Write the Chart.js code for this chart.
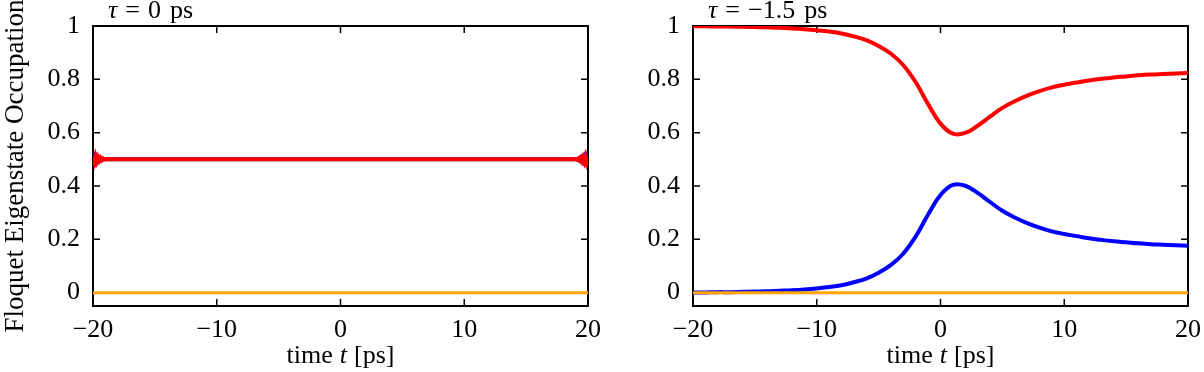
<!DOCTYPE html>
<html>
<head>
<meta charset="utf-8">
<script src="https://cdn.jsdelivr.net/npm/chart.js@4.4.0/dist/chart.umd.min.js"></script>
<style>
    html, body { margin: 0; padding: 0; background: #fff; }
    #wrap { position: relative; width: 1204px; height: 372px; }
    .panel { position: absolute; top: 0; height: 372px; }
    #left { left: 0; width: 600px; }
    #right { left: 600px; width: 604px; }
</style>
</head>
<body>
<div id="wrap">
    <div class="panel" id="left"><canvas id="chartLeft" width="600" height="372"></canvas></div>
    <div class="panel" id="right"><canvas id="chartRight" width="604" height="372"></canvas></div>
</div>
<script>
// axis ticks
const xTicks = [-20, -10, 0, 10, 20];
const yTicks = [0, 0.2, 0.4, 0.6, 0.8, 1];

// panel labels (tau values)
const tauLeft = "0";
const tauRight = "\u22121.5";

// left panel: tau = 0 ps (small wiggles only near the ends)
const tLeft = [-20, -19.9, -19.8, -19.7, -19.6, -19.5, -19.4, -19.3, -19.2, -19.1, -19,
    -18.5, -18, 0, 18, 18.5,
    19, 19.1, 19.2, 19.3, 19.4, 19.5, 19.6, 19.7, 19.8, 19.9, 20];
const redLeft = [0.508, 0.491, 0.511, 0.493, 0.507, 0.495, 0.505, 0.497, 0.503, 0.499, 0.501,
    0.500, 0.500, 0.500, 0.500, 0.500,
    0.501, 0.499, 0.503, 0.497, 0.505, 0.494, 0.507, 0.492, 0.510, 0.490, 0.507];
const blueLeft = [0.494, 0.507, 0.492, 0.506, 0.495, 0.504, 0.497, 0.502, 0.499, 0.501, 0.500,
    0.500, 0.500, 0.500, 0.500, 0.500,
    0.500, 0.501, 0.498, 0.503, 0.496, 0.505, 0.494, 0.507, 0.493, 0.508, 0.495];

// right panel: tau = -1.5 ps
const tRight = [-20, -19, -18, -17, -16, -15, -14, -13, -12, -11, -10, -9, -8, -7, -6, -5, -4, -3, -2, -1,
    0, 1, 2, 3, 4, 5, 6, 7, 8, 9, 10, 11, 12, 13, 14, 15, 16, 17, 18, 19, 20];
const redRight = [0.999, 0.999, 0.998, 0.998, 0.997, 0.996, 0.995, 0.993, 0.991, 0.988, 0.984, 0.979, 0.972, 0.961, 0.947,
    0.925, 0.896, 0.853, 0.789, 0.707,
    0.634, 0.596, 0.599, 0.626, 0.660,
    0.693, 0.718, 0.739, 0.756, 0.770, 0.780, 0.788, 0.796, 0.802, 0.807, 0.811, 0.815, 0.818, 0.820, 0.822, 0.824];
const blueRight = [0.001, 0.001, 0.002, 0.002, 0.003, 0.004, 0.005, 0.007, 0.009, 0.012, 0.016, 0.021, 0.028, 0.039, 0.053,
    0.075, 0.104, 0.147, 0.211, 0.293,
    0.366, 0.404, 0.401, 0.374, 0.340,
    0.307, 0.282, 0.261, 0.244, 0.230, 0.220, 0.212, 0.204, 0.198, 0.193, 0.189, 0.185, 0.182, 0.180, 0.178, 0.176];

// third state stays empty in both panels
const tEnds = [-20, 20];
const orange = [0, 0];

const FONT = "'Liberation Serif', 'Times New Roman', serif";
const FS = 26;
const RED = "#ff0000", BLUE = "#0000ff", ORANGE = "#ffa500";

function pts(ts, vs) {
    return ts.map((t, i) => ({ x: t, y: vs[i] }));
}

// draws a row of text pieces, some italic, with optional gaps after them
function drawPieces(ctx, pieces, x, y, align) {
    let total = 0;
    pieces.forEach(p => {
        ctx.font = (p.it ? "italic " : "") + FS + "px " + FONT;
        p.w = ctx.measureText(p.s).width + (p.gap || 0);
        total += p.w;
    });
    let cx = align === "center" ? x - total / 2 : x;
    pieces.forEach(p => {
        ctx.font = (p.it ? "italic " : "") + FS + "px " + FONT;
        ctx.fillText(p.s, cx, y);
        cx += p.w;
    });
}

// box with inward ticks on all four sides, plus panel texts
const framePlugin = {
    id: "frame",
    beforeDatasetsDraw(chart) {
        const { ctx, chartArea: a, scales: { x, y } } = chart;
        ctx.save();
        ctx.strokeStyle = "#000";
        ctx.lineWidth = 1.5;
        ctx.beginPath();
        xTicks.forEach(v => {
            const px = x.getPixelForValue(v);
            ctx.moveTo(px, a.bottom); ctx.lineTo(px, a.bottom - 7);
            ctx.moveTo(px, a.top); ctx.lineTo(px, a.top + 7);
        });
        yTicks.forEach(v => {
            const py = y.getPixelForValue(v);
            ctx.moveTo(a.left, py); ctx.lineTo(a.left + 7, py);
            ctx.moveTo(a.right, py); ctx.lineTo(a.right - 7, py);
        });
        ctx.stroke();
        ctx.lineWidth = 2;
        ctx.strokeRect(a.left, a.top, a.right - a.left, a.bottom - a.top);
        ctx.restore();
    },
    afterDraw(chart, args, opts) {
        const { ctx, chartArea: a } = chart;
        ctx.save();
        ctx.fillStyle = "#000";
        ctx.textBaseline = "alphabetic";
        ctx.textAlign = "left";
        drawPieces(ctx, [
            { s: "\u03c4", it: true, gap: 8 },
            { s: "=", gap: 8 },
            { s: opts.tau, gap: 9 },
            { s: "ps" }
        ], a.left + 15, 18, "left");
        drawPieces(ctx, [{ s: "time", gap: 7 }, { s: "t", it: true, gap: 7 }, { s: "[ps]" }], (a.left + a.right) / 2, 363, "center");
        ctx.restore();
    }
};

function makeChart(id, tau, datasets, showYTitle, rightPad) {
    const ctx = document.getElementById(id).getContext("2d");
    return new Chart(ctx, {
        type: "line",
        data: { datasets: datasets },
        plugins: [framePlugin],
        options: {
            responsive: false,
            animation: false,
            layout: { padding: { top: 26, right: rightPad, bottom: 0, left: 0 } },
            plugins: {
                legend: { display: false },
                tooltip: { enabled: false },
                frame: { tau: tau }
            },
            elements: { point: { radius: 0 } },
            scales: {
                x: {
                    type: "linear",
                    min: -20,
                    max: 20,
                    border: { display: false },
                    grid: { display: false, drawTicks: false },
                    afterBuildTicks: s => { s.ticks = xTicks.map(v => ({ value: v })); },
                    afterFit: s => { s.height = 66; s.paddingLeft = 0; s.paddingRight = 0; },
                    ticks: {
                        color: "#000",
                        padding: 9,
                        maxRotation: 0,
                        font: { family: FONT, size: FS },
                        callback: v => String(v).replace("-", "\u2212")
                    }
                },
                y: {
                    type: "linear",
                    min: -0.05,
                    max: 1,
                    border: { display: false },
                    grid: { display: false, drawTicks: false },
                    afterBuildTicks: s => { s.ticks = yTicks.map(v => ({ value: v })); },
                    afterFit: s => { s.width = 93; s.paddingTop = 0; s.paddingBottom = 0; },
                    title: {
                        display: showYTitle,
                        text: "Floquet Eigenstate Occupation",
                        color: "#000",
                        padding: { top: 0, bottom: 0 },
                        font: { family: FONT, size: 27 }
                    },
                    ticks: {
                        color: "#000",
                        padding: 13,
                        font: { family: FONT, size: FS },
                        callback: v => (v === 0 || v === 1) ? String(v) : v.toFixed(1)
                    }
                }
            }
        }
    });
}

// first dataset ends up on top
makeChart("chartLeft", tauLeft, [
    { data: pts(tEnds, orange), borderColor: ORANGE, borderWidth: 3, tension: 0 },
    { data: pts(tLeft, redLeft), borderColor: RED, borderWidth: 4, tension: 0 },
    { data: pts(tLeft, blueLeft), borderColor: BLUE, borderWidth: 4, tension: 0 }
], true, 12);

makeChart("chartRight", tauRight, [
    { data: pts(tEnds, orange), borderColor: ORANGE, borderWidth: 3, tension: 0 },
    { data: pts(tRight, redRight), borderColor: RED, borderWidth: 4, tension: 0.4 },
    { data: pts(tRight, blueRight), borderColor: BLUE, borderWidth: 4, tension: 0.4 }
], false, 16);
</script>
</body>
</html>
